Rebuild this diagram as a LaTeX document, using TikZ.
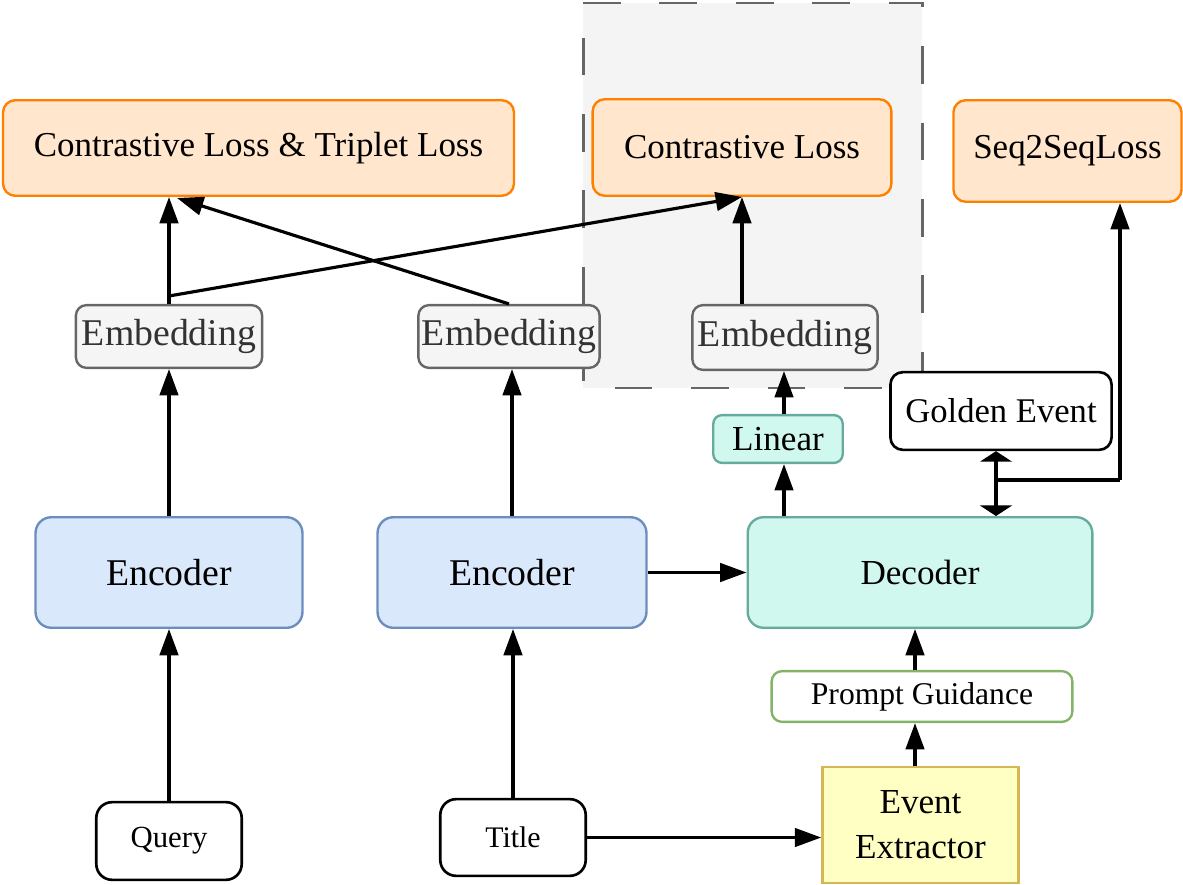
\documentclass[tikz,border=0pt]{standalone}
\usepackage{fontspec}
\setmainfont{Liberation Serif}
\usetikzlibrary{arrows.meta,calc}
\definecolor{orfill}{HTML}{FFE6CC}
\definecolor{orline}{HTML}{FF8000}
\definecolor{gyfill}{HTML}{F5F5F5}
\definecolor{gyline}{HTML}{666666}
\definecolor{gytext}{HTML}{333333}
\definecolor{blfill}{HTML}{DAE8FC}
\definecolor{blline}{HTML}{6C8EBF}
\definecolor{tlfill}{HTML}{D0F8EE}
\definecolor{tlline}{HTML}{67AB9F}
\definecolor{grline}{HTML}{82B366}
\definecolor{ylfill}{HTML}{FFFFC4}
\definecolor{ylline}{HTML}{D6B656}
\definecolor{regfill}{HTML}{F4F4F4}
\def\pxu{0.5669pt}
\tikzset{
  bx/.style={draw, rounded corners=7pt, line width=1.35pt, inner sep=0pt, align=center},
  lossbox/.style={bx, fill=orfill, draw=orline, font=\fontsize{19.9}{24}\selectfont},
  embbox/.style={bx, fill=gyfill, draw=gyline, text=gytext, rounded corners=6pt, font=\fontsize{21.5}{26}\selectfont},
  encbox/.style={bx, fill=blfill, draw=blline, rounded corners=9pt, font=\fontsize{21.5}{26}\selectfont},
  decbox/.style={bx, fill=tlfill, draw=tlline, rounded corners=9pt, font=\fontsize{20}{24}\selectfont},
  linbox/.style={bx, fill=tlfill, draw=tlline, rounded corners=5pt, font=\fontsize{20}{24}\selectfont},
  plainbox/.style={bx, fill=white, draw=black, line width=1.5pt},
  arr/.style={line width=1.8pt, -{Triangle[length=15pt,width=10.5pt]}},
  ln/.style={line width=1.8pt},
  dbl/.style={line width=2.6pt, {Triangle[length=6pt,width=18pt]}-{Triangle[length=6pt,width=18pt]}},
}
\begin{document}
\begin{tikzpicture}[x=0.02cm, y=-0.02cm]
\useasboundingbox (0,0) rectangle (1183,885);
% dashed region
\path[fill=regfill, draw=gyline, line width=1.7pt, dash pattern=on 21.5pt off 22pt] (583,3) -- (922,3) -- (922,388) -- (583,388) -- cycle;

% loss boxes
\node[lossbox, minimum width=513*\pxu, minimum height=96*\pxu] (cltl) at (258.5,148) {Contrastive Loss \& Triplet Loss};
\node[lossbox, minimum width=300*\pxu, minimum height=97*\pxu] (cl) at (742,147.5) {Contrastive Loss};
\node[lossbox, minimum width=229*\pxu, minimum height=102*\pxu] (s2s) at (1067.5,151) {Seq2SeqLoss};

% embeddings
\node[embbox, minimum width=187*\pxu, minimum height=63*\pxu] (emb1) at (169,336.5) {Embedding};
\node[embbox, minimum width=182*\pxu, minimum height=63*\pxu] (emb2) at (509,336.5) {Embedding};
\node[embbox, minimum width=186*\pxu, minimum height=65*\pxu] (emb3) at (785,337.5) {Embedding};

% linear and golden
\node[linbox, minimum width=130*\pxu, minimum height=48*\pxu] (lin) at (778,439) {Linear};
\node[plainbox, font=\fontsize{19.7}{24}\selectfont, minimum width=222*\pxu, minimum height=78*\pxu] (gold) at (1001,411) {Golden Event};

% encoders / decoder
\node[encbox, minimum width=268*\pxu, minimum height=111*\pxu] (enc1) at (169,572.5) {Encoder};
\node[encbox, minimum width=270*\pxu, minimum height=111*\pxu] (enc2) at (512,572.5) {Encoder};
\node[decbox, minimum width=346*\pxu, minimum height=111*\pxu] (dec) at (920,572.5) {Decoder};

% prompt and extractor
\node[bx, fill=white, draw=grline, rounded corners=6pt, font=\fontsize{18}{22}\selectfont, minimum width=302*\pxu, minimum height=51*\pxu] (prompt) at (922,696.5) {Prompt Guidance};
\node[bx, rounded corners=0pt, fill=ylfill, draw=ylline, font=\fontsize{20}{25.5}\selectfont, minimum width=197*\pxu, minimum height=116*\pxu] (ee) at (920.5,825) {Event\\Extractor};

% inputs
\node[plainbox, rounded corners=9pt, font=\fontsize{17.5}{21}\selectfont, minimum width=146*\pxu, minimum height=78*\pxu] (query) at (169,841) {Query};
\node[plainbox, rounded corners=9pt, font=\fontsize{17}{21}\selectfont, minimum width=146*\pxu, minimum height=77*\pxu] (title) at (513,837.5) {Title};

% helper coordinates
\coordinate (j1) at (169,296);
\coordinate (t2) at (177,198);
\coordinate (cx) at (784,0);
\coordinate (px) at (915,0);
\coordinate (gx) at (996,480);
\coordinate (sx) at (1120,480);

% connectors
\draw[arr] (query.north) -- (enc1.south);
\draw[arr] (enc1.north) -- (emb1.south);
\draw[ln] (emb1.north) -- (j1);
\draw[arr] (j1) -- (j1 |- cltl.south);
\draw[arr] (j1) -- (cl.south);
\draw[arr] (emb2.north) -- (t2);
\draw[arr] (emb3.north -| cl.south) -- (cl.south);
\draw[arr] (lin.north -| cx) -- (emb3.south -| cx);
\draw[arr] (dec.north -| cx) -- (lin.south -| cx);
\draw[arr] (enc2.north) -- (enc2.north |- emb2.south);
\draw[arr] (title.north) -- (title.north |- enc2.south);
\draw[arr] (enc2.east) -- (enc2.east -| dec.west);
\draw[arr] (title.east) -- (title.east -| ee.west);
\draw[arr] (ee.north -| px) -- (prompt.south -| px);
\draw[arr] (prompt.north -| px) -- (dec.south -| px);
\draw[dbl] (gold.south -| gx) -- (dec.north -| gx);
\draw[ln] (gx) -- (sx);
\draw[arr] (sx) -- (sx |- s2s.south);
\end{tikzpicture}
\end{document}
